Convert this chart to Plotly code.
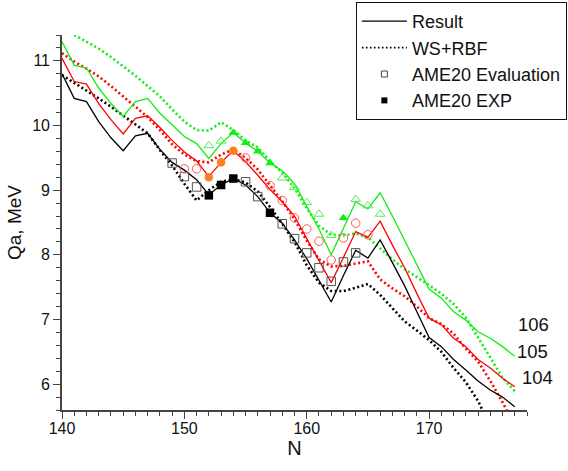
import plotly.graph_objects as go

N_all = list(range(140, 178))

# Result (solid lines)
res104 = [10.80, 10.42, 10.37, 10.06, 9.81, 9.61, 9.84, 9.88, 9.63, 9.43,
          9.31, 9.16, 8.93, 9.08, 9.18, 9.08, 8.90, 8.65, 8.49, 8.23,
          7.94, 7.61, 7.27, 7.68, 8.07, 7.95, 8.23, 7.88, 7.52, 7.12,
          6.72, 6.58, 6.38, 6.22, 6.05, 5.91, 5.80, 5.65]
res105 = [11.04, 10.68, 10.64, 10.34, 10.09, 9.87, 10.11, 10.15, 9.97, 9.77,
          9.59, 9.45, 9.21, 9.43, 9.61, 9.44, 9.23, 9.01, 8.82, 8.60,
          8.25, 7.92, 7.57, 7.96, 8.36, 8.27, 8.52, 8.15, 7.80, 7.40,
          7.02, 6.92, 6.71, 6.58, 6.38, 6.25, 6.09, 5.96]
res106 = [11.30, 10.93, 10.89, 10.58, 10.34, 10.14, 10.37, 10.42, 10.19, 10.01,
          9.83, 9.72, 9.49, 9.72, 9.89, 9.73, 9.60, 9.42, 9.30, 9.10,
          8.75, 8.40, 8.00, 8.41, 8.82, 8.71, 8.96, 8.60, 8.22, 7.85,
          7.47, 7.33, 7.12, 6.99, 6.81, 6.71, 6.58, 6.43]

# WS+RBF (dotted lines)
N_ws104 = list(range(140, 176))
ws104 = [10.78, 10.66, 10.55, 10.42, 10.29, 10.15, 10.02, 9.88, 9.62, 9.38,
         9.10, 8.84, 9.00, 9.13, 9.17, 9.12, 8.98, 8.74, 8.48, 8.20,
         7.84, 7.57, 7.44, 7.44, 7.49, 7.55, 7.38, 7.18, 6.97, 6.83,
         6.68, 6.50, 6.25, 6.03, 5.74, 5.35]
N_ws105 = list(range(140, 178))
ws105 = [11.12, 10.99, 10.88, 10.76, 10.61, 10.45, 10.29, 10.13, 9.93, 9.71,
         9.55, 9.45, 9.43, 9.55, 9.63, 9.50, 9.32, 9.08, 8.83, 8.55,
         8.22, 7.93, 7.82, 7.83, 7.87, 7.90, 7.62, 7.48, 7.36, 7.20,
         7.02, 6.93, 6.78, 6.55, 6.35, 6.05, 5.72, 5.35]
N_ws106 = list(range(141, 178))
ws106 = [11.40, 11.30, 11.19, 11.06, 10.92, 10.77, 10.61, 10.45, 10.25,
         10.06, 9.93, 9.92, 10.05, 9.93, 9.77, 9.66, 9.45, 9.27, 9.03,
         8.72, 8.45, 8.31, 8.30, 8.33, 8.27, 8.10, 7.93, 7.78, 7.66,
         7.53, 7.40, 7.24, 7.03, 6.72, 6.43, 6.10, 5.89]

# AME20 Evaluation (open markers)
ev104_N = [149, 150, 151, 155, 156, 158, 159, 160, 161, 162, 163, 164]
ev104_Q = [9.42, 9.21, 9.05, 9.13, 8.90, 8.48, 8.25, 8.03, 7.80, 7.59, 7.89, 8.03]
ev105_N = [150, 151, 155, 157, 158, 159, 160, 161, 162, 163, 164, 165]
ev105_Q = [9.33, 9.33, 9.50, 9.07, 8.84, 8.57, 8.40, 8.21, 7.92, 8.26, 8.49, 8.31]
ev106_N = [152, 153, 158, 159, 160, 161, 162, 164, 165, 166]
ev106_Q = [9.69, 9.76, 9.19, 9.04, 8.81, 8.63, 8.30, 8.86, 8.76, 8.63]

# AME20 EXP (filled markers)
ex104_N = [152, 153, 154, 157]
ex104_Q = [8.92, 9.08, 9.18, 8.65]
ex105_N = [152, 153, 154]
ex105_Q = [9.20, 9.43, 9.61]
ex106_N = [154, 155, 156, 157, 163]
ex106_Q = [9.89, 9.73, 9.60, 9.42, 8.57]

# Z labels at the right-hand end of the curves (paper coordinates)
z_labels = ["106", "105", "104"]
z_label_x = [1.014, 1.012, 1.022]
z_label_y = [0.227, 0.1547, 0.088]

legend_names = ["Result", "WS+RBF", "AME20 Evaluation", "AME20 EXP"]

BLACK = "#000000"
RED = "#FF0000"
GREEN = "#11EE11"
ORANGE = "#FF7F1E"
DOT = "2px,2.6px"

fig = go.Figure()

for xs, ys, col in [(N_ws104, ws104, BLACK), (N_ws105, ws105, RED), (N_ws106, ws106, GREEN)]:
    fig.add_trace(go.Scatter(x=xs, y=ys, mode="lines", showlegend=False,
                             line=dict(color=col, width=2.6, dash=DOT)))
for ys, col in [(res104, BLACK), (res105, RED), (res106, GREEN)]:
    fig.add_trace(go.Scatter(x=N_all, y=ys, mode="lines", showlegend=False,
                             line=dict(color=col, width=1.3)))

# open markers
for xs, ys, sym, col in [(ev104_N, ev104_Q, "square-open", "#555555"),
                         (ev105_N, ev105_Q, "circle-open", "#FF5555"),
                         (ev106_N, ev106_Q, "triangle-up-open", "#55EE55")]:
    fig.add_trace(go.Scatter(x=xs, y=ys, mode="markers", showlegend=False,
                             marker=dict(symbol=sym, size=8.5, color=col,
                                         line=dict(width=1, color=col))))
# filled markers
for xs, ys, sym, col in [(ex104_N, ex104_Q, "square", BLACK),
                         (ex105_N, ex105_Q, "circle", ORANGE),
                         (ex106_N, ex106_Q, "triangle-up", GREEN)]:
    fig.add_trace(go.Scatter(x=xs, y=ys, mode="markers", showlegend=False,
                             marker=dict(symbol=sym, size=8.5, color=col)))

# legend entries
fig.add_trace(go.Scatter(x=[None], y=[None], mode="lines", name=legend_names[0],
                         line=dict(color=BLACK, width=1.3)))
fig.add_trace(go.Scatter(x=[None], y=[None], mode="lines", name=legend_names[1],
                         line=dict(color=BLACK, width=1.6, dash="1.6px,2.4px")))
fig.add_trace(go.Scatter(x=[None], y=[None], mode="markers", name=legend_names[2],
                         marker=dict(symbol="square-open", size=6, color="#444444",
                                     line=dict(width=1, color="#444444"))))
fig.add_trace(go.Scatter(x=[None], y=[None], mode="markers", name=legend_names[3],
                         marker=dict(symbol="square", size=6, color=BLACK)))

for t, xx, yy in zip(z_labels, z_label_x, z_label_y):
    fig.add_annotation(x=xx, y=yy, xref="paper", yref="paper", text=t,
                       showarrow=False, xanchor="center", yanchor="middle",
                       borderpad=0, font=dict(size=18.5, color="#111111"))

FONT = "Liberation Sans, Arial, sans-serif"
axis_common = dict(showline=True, linecolor="#444444", linewidth=1.6,
                   ticks="outside", tickcolor="#444444", tickwidth=1.4,
                   ticklen=7, showgrid=False, zeroline=False, mirror=False,
                   automargin=False,
                   tickfont=dict(size=16, color="#111111", family=FONT))
fig.update_xaxes(range=[140, 178], dtick=10, tick0=140, ticklabelstandoff=-4,
                 minor=dict(dtick=1, ticks="outside", ticklen=4,
                            tickcolor="#444444", tickwidth=1.2, showgrid=False),
                 title=dict(text="N", font=dict(size=20, color="#111111", family=FONT),
                            standoff=2),
                 **axis_common)
fig.update_yaxes(range=[5.6, 11.4], dtick=1, tick0=6,
                 minor=dict(dtick=0.2, tick0=6, ticks="outside", ticklen=4,
                            tickcolor="#444444", tickwidth=1.2, showgrid=False),
                 title=dict(text="Qa, MeV", font=dict(size=19, color="#111111", family=FONT),
                            standoff=6),
                 **axis_common)

fig.update_layout(
    width=568, height=471,
    margin=dict(l=62, r=41, t=35, b=61, autoexpand=False),
    plot_bgcolor="white", paper_bgcolor="white",
    font=dict(family=FONT, color="#111111"),
    legend=dict(x=0.632, y=1.088, xanchor="left", yanchor="top",
                bordercolor="#111111", borderwidth=1, bgcolor="white",
                font=dict(size=18, family=FONT, color="#111111"),
                itemwidth=45, tracegroupgap=0),
)

fig.write_html("out.html")
